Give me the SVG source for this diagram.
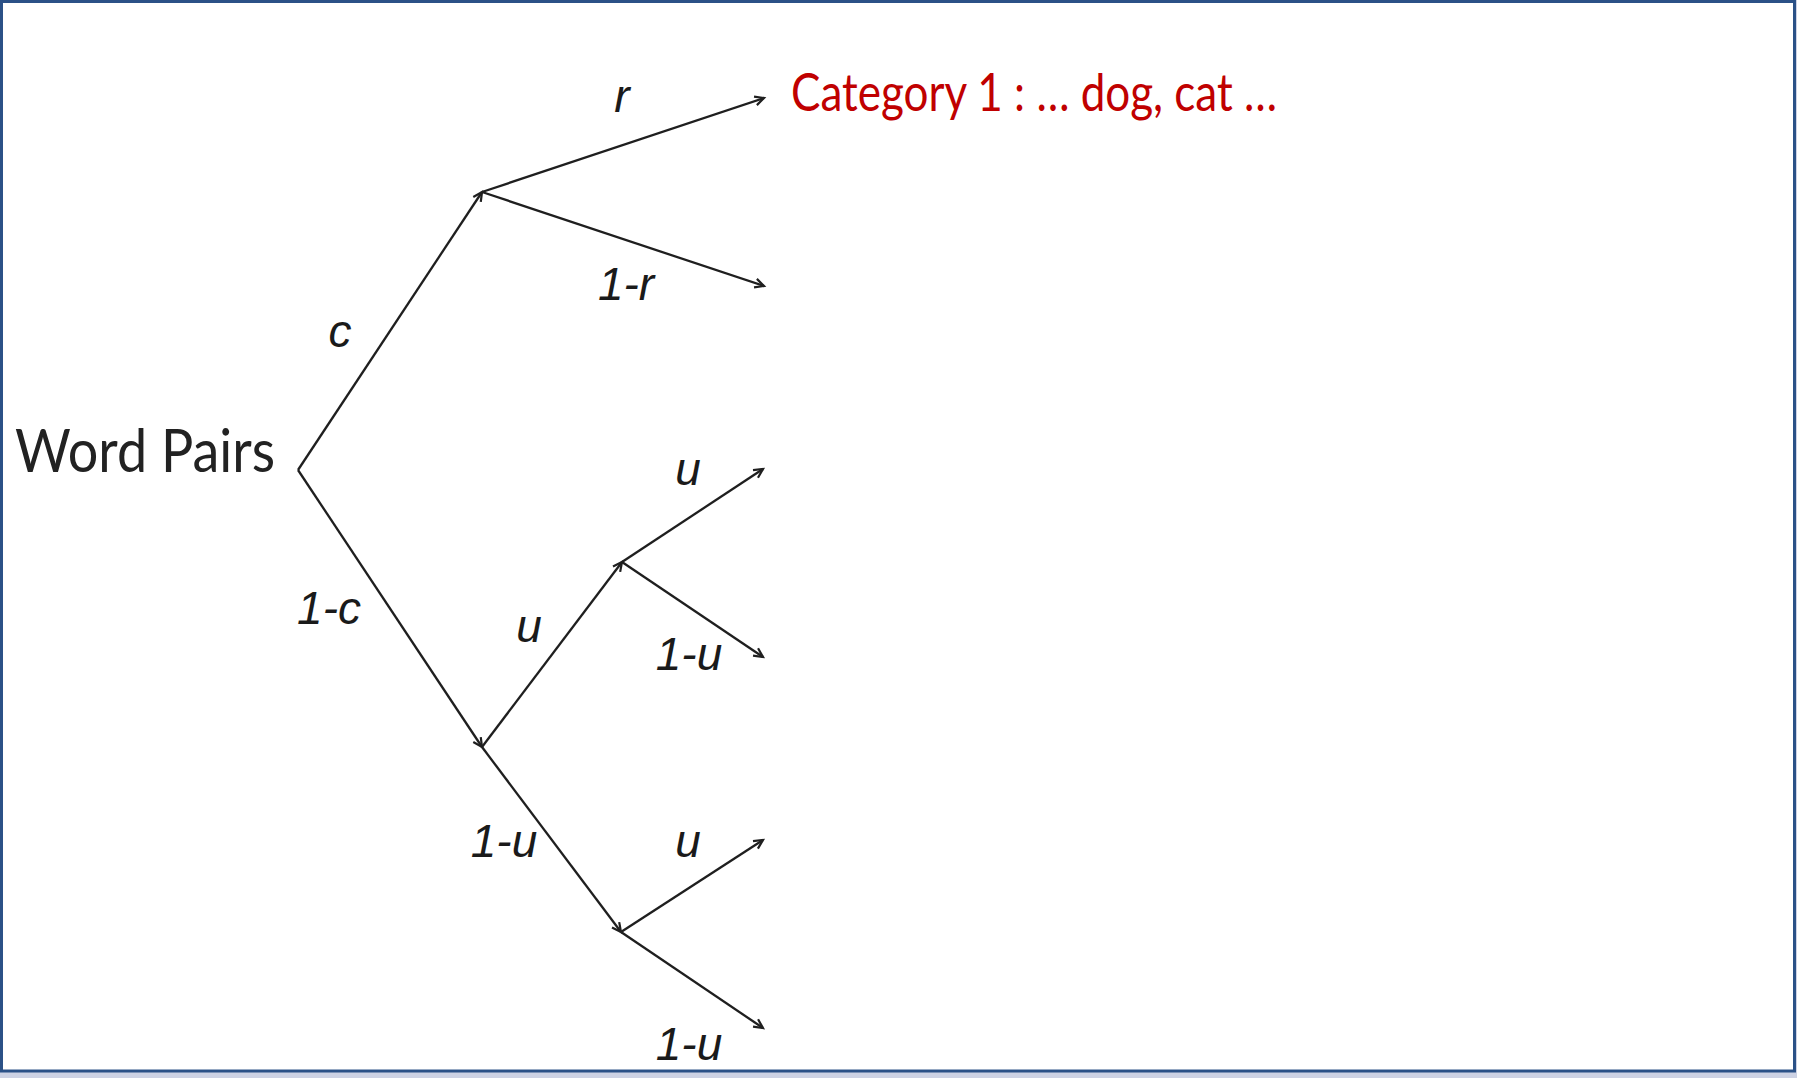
<svg xmlns="http://www.w3.org/2000/svg" width="1797" height="1078" viewBox="0 0 1797 1078">
<style>
.edge{stroke:#1f1f1f;stroke-width:2.3;fill:none;marker-end:url(#ah)}
.lbl{font-family:"Liberation Sans",Arial,sans-serif;font-style:italic;font-size:46px;fill:#1a1a1a;text-anchor:middle}
.title{font-family:Lato,"Open Sans",sans-serif;fill:#222}
.cat{font-family:Lato,"Open Sans",sans-serif;fill:#c00000}
</style>
<defs>
<marker id="ah" markerUnits="userSpaceOnUse" markerWidth="20" markerHeight="20" viewBox="-12 -10 14 20" refX="0" refY="0" orient="auto">
<path d="M-9,-4.5 L0,0 L-9,4.5" fill="none" stroke="#1f1f1f" stroke-width="2.2"/>
</marker>
</defs>
<rect x="0" y="0" width="1797" height="1078" fill="#cdd2e4"/>
<rect x="1.5" y="1.5" width="1793" height="1069.5" fill="#ffffff" stroke="#2b5187" stroke-width="3"/>
<g id="root"><text class="title" x="15" y="472" font-size="60" textLength="260" lengthAdjust="spacingAndGlyphs">Word Pairs</text></g>
<g id="category1"><text class="cat" x="791" y="111" font-size="52" textLength="486" lengthAdjust="spacingAndGlyphs">Category 1 : … dog, cat …</text></g>
<g id="connectors">
<line class="edge" x1="298" y1="470" x2="482" y2="192"/>
<line class="edge" x1="482" y1="192" x2="764" y2="98"/>
<line class="edge" x1="482" y1="192" x2="764" y2="286"/>
<line class="edge" x1="298" y1="470" x2="482" y2="747"/>
<line class="edge" x1="482" y1="747" x2="622" y2="562"/>
<line class="edge" x1="622" y1="562" x2="763" y2="469"/>
<line class="edge" x1="622" y1="562" x2="763" y2="657"/>
<line class="edge" x1="482" y1="747" x2="621" y2="932"/>
<line class="edge" x1="621" y1="932" x2="763" y2="840"/>
<line class="edge" x1="621" y1="932" x2="763" y2="1028"/>
</g>
<g id="labels">
<text class="lbl" x="622" y="112">r</text>
<text class="lbl" x="626" y="300">1-r</text>
<text class="lbl" x="340" y="347">c</text>
<text class="lbl" x="329" y="624">1-c</text>
<text class="lbl" x="688" y="485">u</text>
<text class="lbl" x="689" y="670">1-u</text>
<text class="lbl" x="529" y="642">u</text>
<text class="lbl" x="504" y="857">1-u</text>
<text class="lbl" x="688" y="857">u</text>
<text class="lbl" x="689" y="1060">1-u</text>
</g>
</svg>
